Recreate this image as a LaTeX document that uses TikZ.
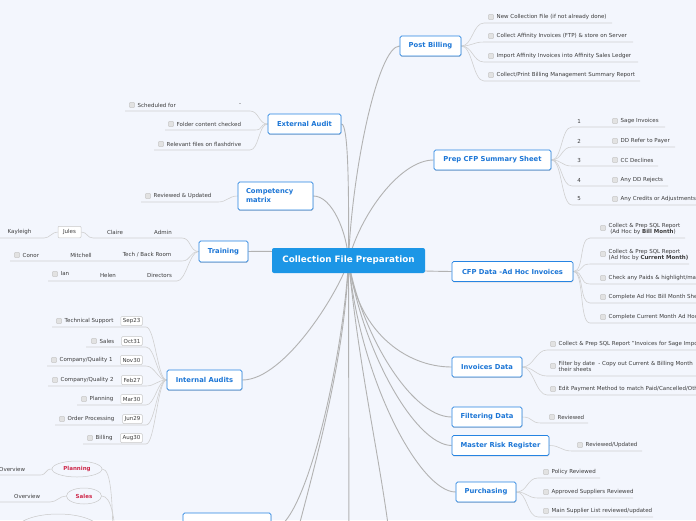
\documentclass[tikz,border=0pt]{standalone}
\usepackage{fontspec}
\setmainfont{DejaVu Sans}
\usetikzlibrary{shapes.geometric,shadows}
\pgfdeclarelayer{bgl}
\pgfdeclarelayer{conn}
\pgfsetlayers{bgl,conn,main}
\definecolor{bgc}{RGB}{243,246,253}
\definecolor{tblue}{RGB}{38,132,226}
\definecolor{ttext}{RGB}{28,118,214}
\definecolor{rootc}{RGB}{28,150,230}
\definecolor{itemc}{RGB}{60,60,60}
\definecolor{mconnc}{RGB}{178,178,178}
\definecolor{sconnc}{RGB}{208,208,208}
\definecolor{chkc}{RGB}{226,226,226}
\definecolor{chkb}{RGB}{200,200,200}
\definecolor{crim}{RGB}{206,40,74}
\tikzset{
 topic/.style={draw=tblue, line width=0.8pt, fill=white, rounded corners=1.6pt, text=ttext,
   font=\bfseries\fontsize{6.8}{9}\selectfont, inner sep=0pt, minimum height=20pt,
   drop shadow={shadow xshift=0.3pt,shadow yshift=-0.9pt,opacity=0.18,fill=black}},
 rootbox/.style={fill=rootc, rounded corners=2pt, text=white, font=\bfseries\fontsize{8.8}{10}\selectfont,
   minimum width=153pt, minimum height=25pt, inner sep=0pt},
 chk/.style={draw=chkb, fill=chkc, rounded corners=0.8pt, minimum size=5.2pt, inner sep=0pt, line width=0.4pt},
 itm/.style={anchor=west, inner sep=0pt, text=itemc, font=\fontsize{5.5}{6.3}\selectfont},
 lbl/.style={inner sep=0pt, text=itemc, font=\fontsize{5.5}{6.3}\selectfont},
 datebox/.style={draw=chkb, fill=white, rounded corners=1pt, line width=0.5pt, text=itemc,
   font=\fontsize{5.5}{6.3}\selectfont, inner xsep=2pt, inner ysep=0pt, minimum height=9pt},
 oval/.style={ellipse, draw=chkb, line width=0.5pt, fill=bgc, text=crim,
   font=\bfseries\fontsize{5.5}{6.5}\selectfont, inner sep=0pt},
 mconn/.style={draw=mconnc, line width=0.9pt},
 sconn/.style={draw=sconnc, line width=0.6pt},
}
% right-side checklist item: name, parent, y, checkbox x, underline start, underline end, text
\newcommand\ritem[7]{%
 \node[chk] (#1c) at (#4,#3) {};
 \node[itm] (#1) at (#4+5.5,#3) {#7};
 \coordinate (#1s) at (#5,#3+6);
 \coordinate (#1e) at (#6,#3+6);
 \begin{pgfonlayer}{conn}
 \draw[sconn] (#2.east) .. controls +(11,0) and +(-11,0) .. (#1s) -- (#1e);
 \end{pgfonlayer}}
% left-side checklist item
\newcommand\litem[7]{%
 \node[chk] (#1c) at (#4,#3) {};
 \node[itm] (#1) at (#4+5.5,#3) {#7};
 \coordinate (#1s) at (#5,#3+6);
 \coordinate (#1e) at (#6,#3+6);
 \begin{pgfonlayer}{conn}
 \draw[sconn] (#1s) -- (#1e) .. controls +(9,0) and +(-9,0) .. (#2.west);
 \end{pgfonlayer}}
% internal audit item: name, y, checkbox x, underline start, text, date
\newcommand\aitem[6]{%
 \node[chk] (#1c) at (#3,#2) {};
 \node[itm] (#1) at (#3+5.5,#2) {#5};
 \node[datebox, anchor=east] (#1d) at (142.5,#2) {#6};
 \coordinate (#1s) at (#4,#2+6);
 \coordinate (#1e) at (146,#2+6);
 \begin{pgfonlayer}{conn}
 \draw[sconn] (#1s) -- (#1e) .. controls +(9,0) and +(-9,0) .. (ia.west);
 \end{pgfonlayer}}

\begin{document}
\begin{tikzpicture}[x=1pt,y=-1pt]
\useasboundingbox (0,0) rectangle (696,520);
\begin{pgfonlayer}{bgl}
\fill[bgc] (0,0) rectangle (696,520);
\end{pgfonlayer}

% ---------- main nodes ----------
\node[rootbox] (root) at (348.5,260.5) {Collection File Preparation};
\node[topic, minimum width=61pt] (pb) at (430.5,46) {Post Billing};
\node[topic, minimum width=117pt] (pc) at (492.5,160) {Prep CFP Summary Sheet};
\node[topic, minimum width=121pt] (cd) at (512.5,271.5) {CFP Data -Ad Hoc Invoices};
\node[topic, minimum width=70pt] (id) at (487,367) {Invoices Data};
\node[topic, minimum width=70pt] (fd) at (487,417) {Filtering Data};
\node[topic, minimum width=97pt] (mr) at (500.5,445.5) {Master Risk Register};
\node[topic, minimum width=60pt] (pu) at (486,492) {Purchasing};
\node[topic, minimum width=73pt] (ea) at (304.5,124) {External Audit};
\node[topic, text width=59pt, align=left, inner xsep=8pt, minimum height=28pt] (cm) at (275.5,196) {Competency\\matrix};
\node[topic, minimum width=49pt, minimum height=21pt] (tr) at (223.5,251.5) {Training};
\node[topic, minimum width=75pt] (ia) at (204.5,380) {Internal Audits};
\node[topic, minimum width=88pt, minimum height=34pt] (bn) at (227,530) {};

\coordinate (offA) at (290,560);
\coordinate (offB) at (349,560);
\coordinate (offC) at (392,560);

\begin{pgfonlayer}{conn}
\draw[mconn] (root.center) .. controls (352,170) and (378,46) .. (pb.west);
\draw[mconn] (root.center) .. controls (349,180) and (348,124) .. (ea.east);
\draw[mconn] (root.center) .. controls (347,232) and (332,196) .. (cm.east);
\draw[mconn] (root.center) .. controls (360,215) and (400,160) .. (pc.west);
\draw[mconn] (root.center) .. controls (385,271) and (420,271) .. (cd.west);
\draw[mconn] (root.center) .. controls (300,251) and (270,251) .. (tr.east);
\draw[mconn] (root.center) .. controls (340,290) and (285,380) .. (ia.east);
\draw[mconn] (root.center) .. controls (343,360) and (305,530) .. (bn.east);
\draw[mconn] (root.center) .. controls (345,360) and (315,465) .. (offA);
\draw[mconn] (root.center) -- (offB);
\draw[mconn] (root.center) .. controls (360,380) and (385,480) .. (offC);
\draw[mconn] (root.center) .. controls (356,330) and (405,367) .. (id.west);
\draw[mconn] (root.center) .. controls (360,330) and (410,417) .. (fd.west);
\draw[mconn] (root.center) .. controls (362,350) and (415,445) .. (mr.west);
\draw[mconn] (root.center) .. controls (360,380) and (420,492) .. (pu.west);
\end{pgfonlayer}

% ---------- Post Billing ----------
\ritem{pba}{pb}{17}{491}{484}{612}{New Collection File (if not already done)}
\ritem{pbb}{pb}{36}{491}{484}{633}{Collect Affinity Invoices (FTP) \& store on Server}
\ritem{pbc}{pb}{56}{491}{484}{638}{Import Affinity Invoices into Affinity Sales Ledger}
\ritem{pbd}{pb}{75}{491}{484}{640}{Collect/Print Billing Management Summary Report}

% ---------- Prep CFP Summary Sheet ----------
\ritem{pca}{pc}{121}{615}{572}{665}{Sage Invoices}
\ritem{pcb}{pc}{141}{615}{572}{675}{DD Refer to Payer}
\ritem{pcc}{pc}{160}{615}{572}{658}{CC Declines}
\ritem{pcd}{pc}{180}{615}{572}{668}{Any DD Rejects}
\ritem{pce}{pc}{199}{615}{572}{700}{Any Credits or Adjustments}
\node[lbl] (pcan) at (579,121) {1};
\node[lbl] (pcbn) at (579,141) {2};
\node[lbl] (pccn) at (579,160) {3};
\node[lbl] (pcdn) at (579,180) {4};
\node[lbl] (pcen) at (579,199) {5};

% ---------- CFP Data -Ad Hoc Invoices ----------
\node[chk] (cdac) at (603,228) {};
\node[itm, align=left] (cda) at (608.5,229) {Collect \& Prep SQL Report\\\hspace*{1.6pt}(Ad Hoc by \textbf{Bill Month})};
\coordinate (cdas) at (590,238); \coordinate (cdae) at (685,238);
\node[chk] (cdbc) at (603,254) {};
\node[itm, align=left] (cdb) at (608.5,255) {Collect \& Prep SQL Report\\(Ad Hoc by \textbf{Current Month)}};
\coordinate (cdbs) at (590,264); \coordinate (cdbe) at (689,264);
\begin{pgfonlayer}{conn}
\draw[sconn] (cd.east) .. controls +(11,0) and +(-11,0) .. (cdas) -- (cdae);
\draw[sconn] (cd.east) .. controls +(11,0) and +(-11,0) .. (cdbs) -- (cdbe);
\end{pgfonlayer}
\ritem{cdc}{cd}{278}{603}{590}{700}{Check any Paids \& highlight/mark}
\ritem{cdd}{cd}{297}{603}{590}{700}{Complete Ad Hoc Bill Month Sheet}
\ritem{cde}{cd}{317}{603}{590}{700}{Complete Current Month Ad Hoc}

% ---------- Invoices Data ----------
\ritem{ida}{id}{344}{553}{547}{700}{Collect \& Prep SQL Report "Invoices for Sage Import"}
\node[chk] (idbc) at (553,366) {};
\node[itm, align=left] (idb) at (558.5,366.5) {Filter by date~ - Copy out Current \& Billing Month\\their sheets};
\coordinate (idbs) at (547,376); \coordinate (idbe) at (700,376);
\begin{pgfonlayer}{conn}
\draw[sconn] (id.east) .. controls +(11,0) and +(-11,0) .. (idbs) -- (idbe);
\end{pgfonlayer}
\ritem{idc}{id}{389}{553}{547}{700}{Edit Payment Method to match Paid/Cancelled/Other}

% ---------- Filtering / Risk / Purchasing ----------
\ritem{fda}{fd}{417}{552}{541}{588}{Reviewed}
\ritem{mra}{mr}{445}{580}{572}{642}{Reviewed/Updated}
\ritem{pua}{pu}{472}{546}{538}{600}{Policy Reviewed}
\ritem{pub}{pu}{492}{546}{538}{633}{Approved Suppliers Reviewed}
\ritem{puc}{pu}{511}{546}{538}{653}{Main Supplier List reviewed/updated}

% ---------- External Audit ----------
\litem{eaa}{ea}{105}{132}{125}{250}{Scheduled for}
\node[lbl] (eadash) at (240,105) {-};
\litem{eab}{ea}{124}{171}{165}{255}{Folder content checked}
\litem{eac}{ea}{144}{161}{154}{250}{Relevant files on flashdrive}

% ---------- Competency matrix ----------
\litem{cma}{cm}{196}{148}{141}{218}{Reviewed \& Updated}

% ---------- Training ----------
\node[lbl] (admin) at (163,232) {Admin};
\node[lbl] (claire) at (115,232) {Claire};
\node[datebox, minimum width=23pt, minimum height=11.5pt] (jules) at (69.5,232) {Jules};
\node[lbl] (kay) at (19.5,232) {Kayleigh};
\coordinate (r1a) at (182,238); \coordinate (r1b) at (93,238);
\coordinate (k1a) at (44,238); \coordinate (k1b) at (0,238);
\node[lbl] (tech) at (147,255) {Tech / Back Room};
\node[lbl] (mitch) at (81,255) {Mitchell};
\node[chk] (conorc) at (17,255) {};
\node[itm] (conor) at (22.5,255) {Conor};
\coordinate (r2a) at (182,261); \coordinate (r2b) at (10,261);
\node[lbl] (dir) at (159.5,275) {Directors};
\node[lbl] (helen) at (108,275) {Helen};
\node[chk] (ianc) at (55,274) {};
\node[itm] (ian) at (60.5,274) {Ian};
\coordinate (r3a) at (177,281); \coordinate (r3b) at (48,281);
\begin{pgfonlayer}{conn}
\draw[sconn] (tr.west) .. controls +(-9,0) and +(9,0) .. (r1a) -- (r1b) .. controls +(-6,0) and +(6,0) .. (jules.east);
\draw[sconn] (jules.west) .. controls +(-6,0) and +(6,0) .. (k1a) -- (k1b);
\draw[sconn] (tr.west) .. controls +(-9,0) and +(9,0) .. (r2a) -- (r2b);
\draw[sconn] (tr.west) .. controls +(-9,0) and +(9,0) .. (r3a) -- (r3b);
\end{pgfonlayer}

% ---------- Internal Audits ----------
\aitem{iaa}{321}{59}{52}{Technical Support}{Sep23}
\aitem{iab}{341}{94}{86}{Sales}{Oct31}
\aitem{iac}{360}{54}{47}{Company/Quality 1}{Nov30}
\aitem{iad}{380}{55}{48}{Company/Quality 2}{Feb27}
\aitem{iae}{399}{84}{77}{Planning}{Mar30}
\aitem{iaf}{419}{62}{55}{Order Processing}{Jun29}
\aitem{iag}{438}{90}{83}{Billing}{Aug30}

% ---------- bottom-left ----------
\node[oval, minimum width=50pt, minimum height=16pt] (pl) at (77,469) {Planning};
\node[oval, minimum width=35pt, minimum height=16pt] (sl) at (84,496) {Sales};
\node[oval, minimum width=84pt, minimum height=32pt] (e3) at (58,530) {};
\node[itm] (ova) at (-1,469) {Overview};
\node[itm] (ovb) at (14,496) {Overview};
\coordinate (ova1) at (0,475); \coordinate (ova2) at (40,475);
\coordinate (ovb1) at (0,502); \coordinate (ovb2) at (50,502);
\coordinate (pdown) at (113,560);
\coordinate (sdown) at (116,560);
\begin{pgfonlayer}{conn}
\draw[sconn] (ova1) -- (ova2) .. controls +(7,0) and +(-7,0) .. (pl.west);
\draw[sconn] (ovb1) -- (ovb2) .. controls +(7,0) and +(-7,0) .. (sl.west);
\draw[sconn] (pl.east) .. controls +(9,0) and +(0,-60) .. (pdown);
\draw[sconn] (sl.east) .. controls +(10,0) and +(0,-40) .. (sdown);
\end{pgfonlayer}
\end{tikzpicture}
\end{document}
